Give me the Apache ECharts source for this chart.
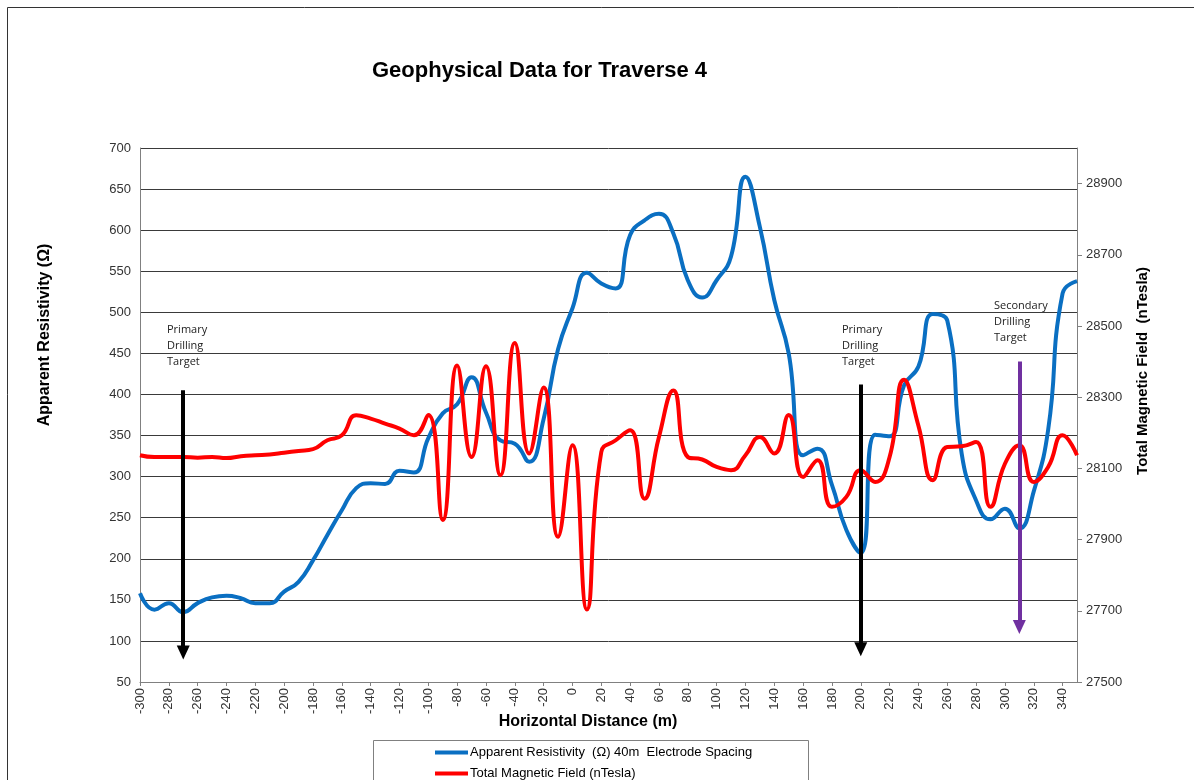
<!DOCTYPE html>
<html>
<head>
<meta charset="utf-8">
<script src="https://cdn.jsdelivr.net/npm/echarts@6/dist/echarts.min.js"></script>
<style>html,body{margin:0;padding:0;background:#fff}#c{width:1194px;height:780px}</style>
</head>
<body>
<div id="c"></div>
<script>
// Horizontal distance (m)
const distance = [-300,-290,-280,-270,-260,-250,-240,-230,-220,-210,-200,-190,-180,-170,-160,-150,-140,-130,-120,-110,-100,-90,-80,-70,-60,-50,-40,-30,-20,-10,0,10,20,30,40,50,60,70,80,90,100,110,120,130,140,150,160,170,180,190,200,210,220,230,240,250,260,270,280,290,300,310,320,330,340,350];
// Apparent resistivity (ohm), 40m electrode spacing
const resistivity = [158,138,146,135,146,153,155,152,146,146,160,172,198,229,259,286,292,291,307,305,347,377,388,421,378,344,340,318,370,455,505,548,535,529,594,612,620,596,539,518,539,568,665,604,515,450,326,334,290,235,207,351,349,411,434,498,490,328,271,248,261,237,282,357,523,538];
// Total magnetic field (nTesla)
const magnetic = [28137,28132,28132,28132,28130,28132,28129,28134,28137,28139,28144,28149,28154,28179,28193,28249,28240,28226,28212,28193,28250,27955,28389,28132,28387,28081,28452,28142,28327,27908,28165,27704,28146,28179,28207,28015,28188,28319,28132,28125,28104,28095,28137,28188,28142,28250,28076,28123,27992,28020,28095,28062,28132,28349,28220,28067,28160,28162,28174,27992,28113,28165,28062,28104,28193,28137];
// Right axis tick labels
const magTicks = [27500,27700,27900,28100,28300,28500,28700,28900];
// Drilling targets: [distance, top, tip] in resistivity units
const targets = [
  {name:'Primary', x:-270, top:405, tip:86, color:'#000000'},
  {name:'Primary', x:200, top:412, tip:90, color:'#000000'},
  {name:'Secondary', x:310, top:440, tip:117, color:'#7030A0'}
];
const targetLabels = ['Primary\nDrilling\nTarget','Primary\nDrilling\nTarget','Secondary\nDrilling\nTarget'];
const seriesNames = ['Apparent Resistivity  (Ω) 40m  Electrode Spacing','Total Magnetic Field (nTesla)'];

const chart = echarts.init(document.getElementById('c'));
const font = 'Liberation Sans, Arial, sans-serif';
const resData = distance.map((d,i)=>[d,resistivity[i]]);
const magData = distance.map((d,i)=>[d,magnetic[i]]);
const legendBase = {orient:'vertical', left:435, itemWidth:33, itemHeight:4, icon:'rect', padding:0,
  textStyle:{fontFamily:font, fontSize:13, color:'#000', padding:[0,0,0,-3]}};

chart.setOption({
  animation:false,
  backgroundColor:'#fff',
  title:{text:'Geophysical Data for Traverse 4', left:367, top:55,
    textStyle:{fontFamily:font, fontSize:22, fontWeight:'bold', color:'#000'}},
  grid:{left:140, right:117, top:148, bottom:98},
  legend:[
    Object.assign({}, legendBase, {top:746, data:[seriesNames[0]]}),
    Object.assign({}, legendBase, {top:767, data:[seriesNames[1]]})
  ],
  xAxis:{type:'value', min:-300, max:350, interval:20,
    axisLine:{onZero:false, lineStyle:{color:'#808080'}},
    axisTick:{show:true, length:4, lineStyle:{color:'#808080'}},
    axisLabel:{rotate:90, fontFamily:font, fontSize:13, color:'#333', showMaxLabel:false, margin:6},
    splitLine:{show:false}},
  yAxis:[
    {type:'value', min:50, max:700, interval:50,
     axisLine:{show:true, onZero:false, lineStyle:{color:'#808080'}},
     axisTick:{show:false},
     axisLabel:{fontFamily:font, fontSize:13, color:'#333', margin:9},
     splitLine:{show:true, lineStyle:{color:'#3a3a3a', width:1}}},
    {type:'value', min:27500, max:29000, position:'right',
     axisLine:{show:true, onZero:false, lineStyle:{color:'#808080'}},
     axisTick:{show:true, length:5, customValues:magTicks, lineStyle:{color:'#808080'}},
     axisLabel:{fontFamily:font, fontSize:13, color:'#333', margin:9, customValues:magTicks, formatter:v=>String(v)},
     splitLine:{show:false}}
  ],
  graphic:[
    {type:'rect', shape:{x:7.5,y:7.5,width:1200,height:800}, style:{fill:'none', stroke:'#333', lineWidth:1}, silent:true},
    {type:'rect', shape:{x:373.5,y:740.5,width:435,height:60}, style:{fill:'none', stroke:'#808080', lineWidth:1}, silent:true, z:-1},
    {type:'text', x:45, y:335, rotation:Math.PI/2,
     style:{text:'Apparent Resistivity (Ω)', fontFamily:font, fontSize:16, fontWeight:'bold', fill:'#000', textAlign:'center', textVerticalAlign:'middle'}},
    {type:'text', x:1143, y:371, rotation:Math.PI/2,
     style:{text:'Total Magnetic Field  (nTesla)', fontFamily:font, fontSize:15, fontWeight:'bold', fill:'#000', textAlign:'center', textVerticalAlign:'middle'}},
    {type:'text', x:588, y:722,
     style:{text:'Horizontal Distance (m)', fontFamily:font, fontSize:16, fontWeight:'bold', fill:'#000', textAlign:'center', textVerticalAlign:'middle'}},
    {type:'text', x:167, y:322, style:{text:targetLabels[0], fontFamily:'Open Sans, sans-serif', fontSize:11, lineHeight:16, fill:'#222'}},
    {type:'text', x:842, y:322, style:{text:targetLabels[1], fontFamily:'Open Sans, sans-serif', fontSize:11, lineHeight:16, fill:'#222'}},
    {type:'text', x:994, y:298, style:{text:targetLabels[2], fontFamily:'Open Sans, sans-serif', fontSize:11, lineHeight:16, fill:'#222'}}
  ],
  series:[
    {name:seriesNames[0], type:'line', yAxisIndex:0, data:resData,
     smooth:0.5, showSymbol:false, symbol:'none', color:'#0A6FC2', lineStyle:{width:4, color:'#0A6FC2'}, z:3,
     markLine:{silent:true, symbol:['none','triangle'], symbolSize:[13,14], label:{show:false}, animation:false,
       data:targets.map(t=>[{coord:[t.x,t.top], lineStyle:{color:t.color, width:4, type:'solid'}},{coord:[t.x,t.tip]}])}},
    {name:seriesNames[1], type:'line', yAxisIndex:1, data:magData,
     smooth:0.5, showSymbol:false, symbol:'none', color:'#FF0000', lineStyle:{width:4, color:'#FF0000'}, z:4}
  ]
});
</script>
</body>
</html>
